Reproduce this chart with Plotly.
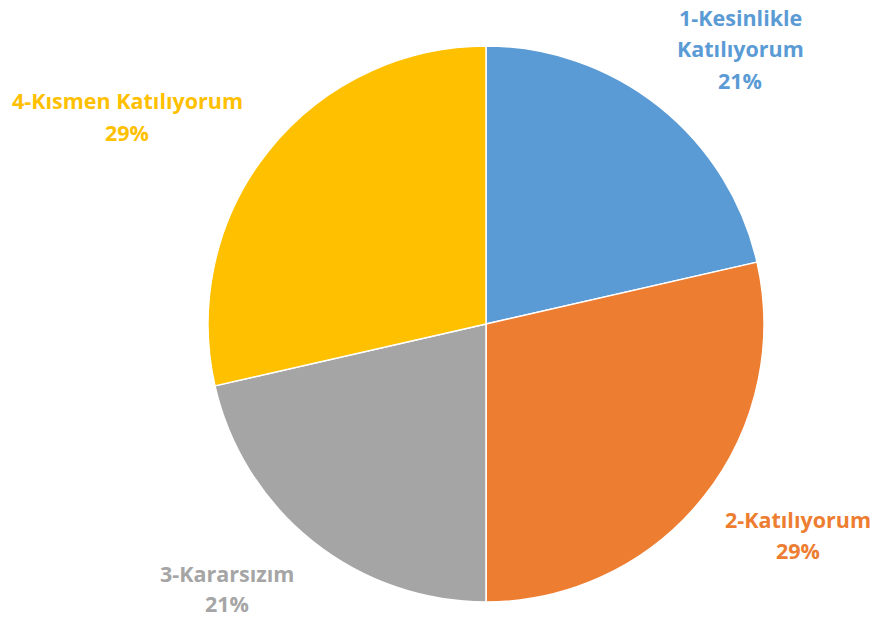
import plotly.graph_objects as go

W, H = 876, 621

labels = ["1-Kesinlikle Katılıyorum", "2-Katılıyorum", "3-Kararsızım", "4-Kısmen Katılıyorum"]
values = [3, 4, 3, 4]
colors = ["#5B9BD5", "#ED7D31", "#A5A5A5", "#FFC000"]

# label text split into lines as in the reference, with pixel anchors (x centre, cap-centre y per line)
label_lines = [["1-Kesinlikle", "Katılıyorum"], ["2-Katılıyorum"], ["3-Kararsızım"], ["4-Kısmen Katılıyorum"]]
label_pos = [(740, [17, 48, 80]), (798, [519, 550]), (227, [573, 603]), (127, [100, 132])]

FONT = "Open Sans, Calibri, sans-serif"

# pie geometry in pixels
cx, cy, r = 486, 324, 278

fig = go.Figure(go.Pie(
    labels=labels,
    values=values,
    marker=dict(colors=colors, line=dict(color="white", width=1.5)),
    sort=False,
    direction="clockwise",
    rotation=0,
    textinfo="none",
    hoverinfo="label+percent",
    domain=dict(x=[(cx - r) / W, (cx + r) / W],
                y=[(H - cy - r) / H, (H - cy + r) / H]),
    showlegend=False,
))

total = sum(values)
for lines, v, c, (x, ys) in zip(label_lines, values, colors, label_pos):
    texts = lines + [f"{round(v / total * 100)}%"]
    for t, y in zip(texts, ys):
        fig.add_annotation(text=f"<b>{t}</b>", x=x / W, y=1 - y / H,
                           xref="paper", yref="paper", xanchor="center", yanchor="middle",
                           showarrow=False, font=dict(family=FONT, size=21.5, color=c))

fig.update_layout(
    width=W, height=H,
    margin=dict(l=0, r=0, t=0, b=0),
    paper_bgcolor="white",
    plot_bgcolor="white",
)

# drop the browser's default 8px body margin so the figure sits at the page origin
fig.write_html("out.html", config={"displayModeBar": False},
               post_script="document.body.style.margin = '0';")
